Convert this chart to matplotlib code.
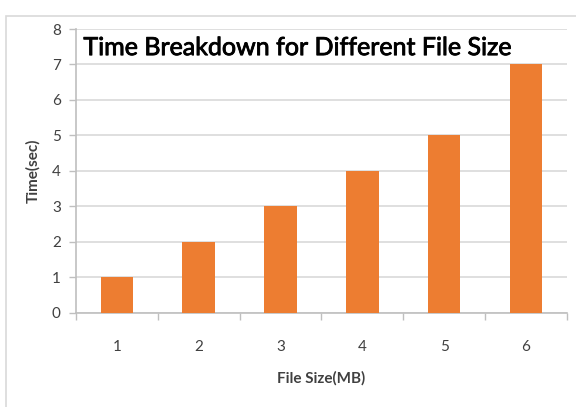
import matplotlib.pyplot as plt
import matplotlib.patheffects as pe
from matplotlib.patches import Rectangle

# file sizes (MB) and measured time (sec)
file_sizes = ['1', '2', '3', '4', '5', '6']
times = [1, 2, 3, 4, 5, 7]

bar_color = '#ED7D31'
grid_color = '#D9D9D9'
text_color = '#404040'

plt.rcParams['font.family'] = ['Lato', 'DejaVu Sans']

fig = plt.figure(figsize=(5.76, 4.07), dpi=100)
ax = fig.add_axes([0.132, 0.2317, 0.852, 0.697])

x = list(range(len(file_sizes)))
ax.bar(x, times, width=0.4, color=bar_color, zorder=3)

ax.set_xlim(-0.5, len(file_sizes) - 0.5)
ax.set_ylim(0, 8)
ax.set_yticks(range(0, 9))
ax.yaxis.grid(True, color=grid_color, linewidth=1.2, zorder=0)

# category labels in the middle, tick marks on the boundaries
ax.set_xticks(x)
ax.set_xticklabels(file_sizes)
ax.set_xticks([i - 0.5 for i in range(len(file_sizes) + 1)], minor=True)
ax.tick_params(axis='x', which='major', length=0, pad=20, labelsize=11, labelcolor=text_color)
ax.tick_params(axis='x', which='minor', length=5, width=1, color='#BFBFBF')
ax.tick_params(axis='y', length=5, width=1, color='#BFBFBF', pad=6, labelsize=11, labelcolor=text_color)

for side in ['top', 'right']:
    ax.spines[side].set_visible(False)
for side in ['left', 'bottom']:
    ax.spines[side].set_color('#BFBFBF')
    ax.spines[side].set_linewidth(1.2)

ax.set_ylabel('Time(sec)', fontsize=11, fontweight='bold', color=text_color, labelpad=8)
ax.set_xlabel('File Size(MB)', fontsize=11, fontweight='bold', color=text_color, labelpad=12)

title = ax.text(0.015, 0.975, 'Time Breakdown for Different File Size', transform=ax.transAxes,
                fontsize=18, color='black', ha='left', va='top', zorder=5,
                bbox=dict(facecolor='white', edgecolor='none', pad=1))
title.set_path_effects([pe.withStroke(linewidth=0.6, foreground='black')])

# outer chart frame
fig.patches.append(Rectangle((6 / 576, -0.1), 1.2, 1.08 - 8 / 407, transform=fig.transFigure,
                             fill=False, edgecolor=grid_color, linewidth=1.2))

fig.savefig('out.png', dpi=100)
